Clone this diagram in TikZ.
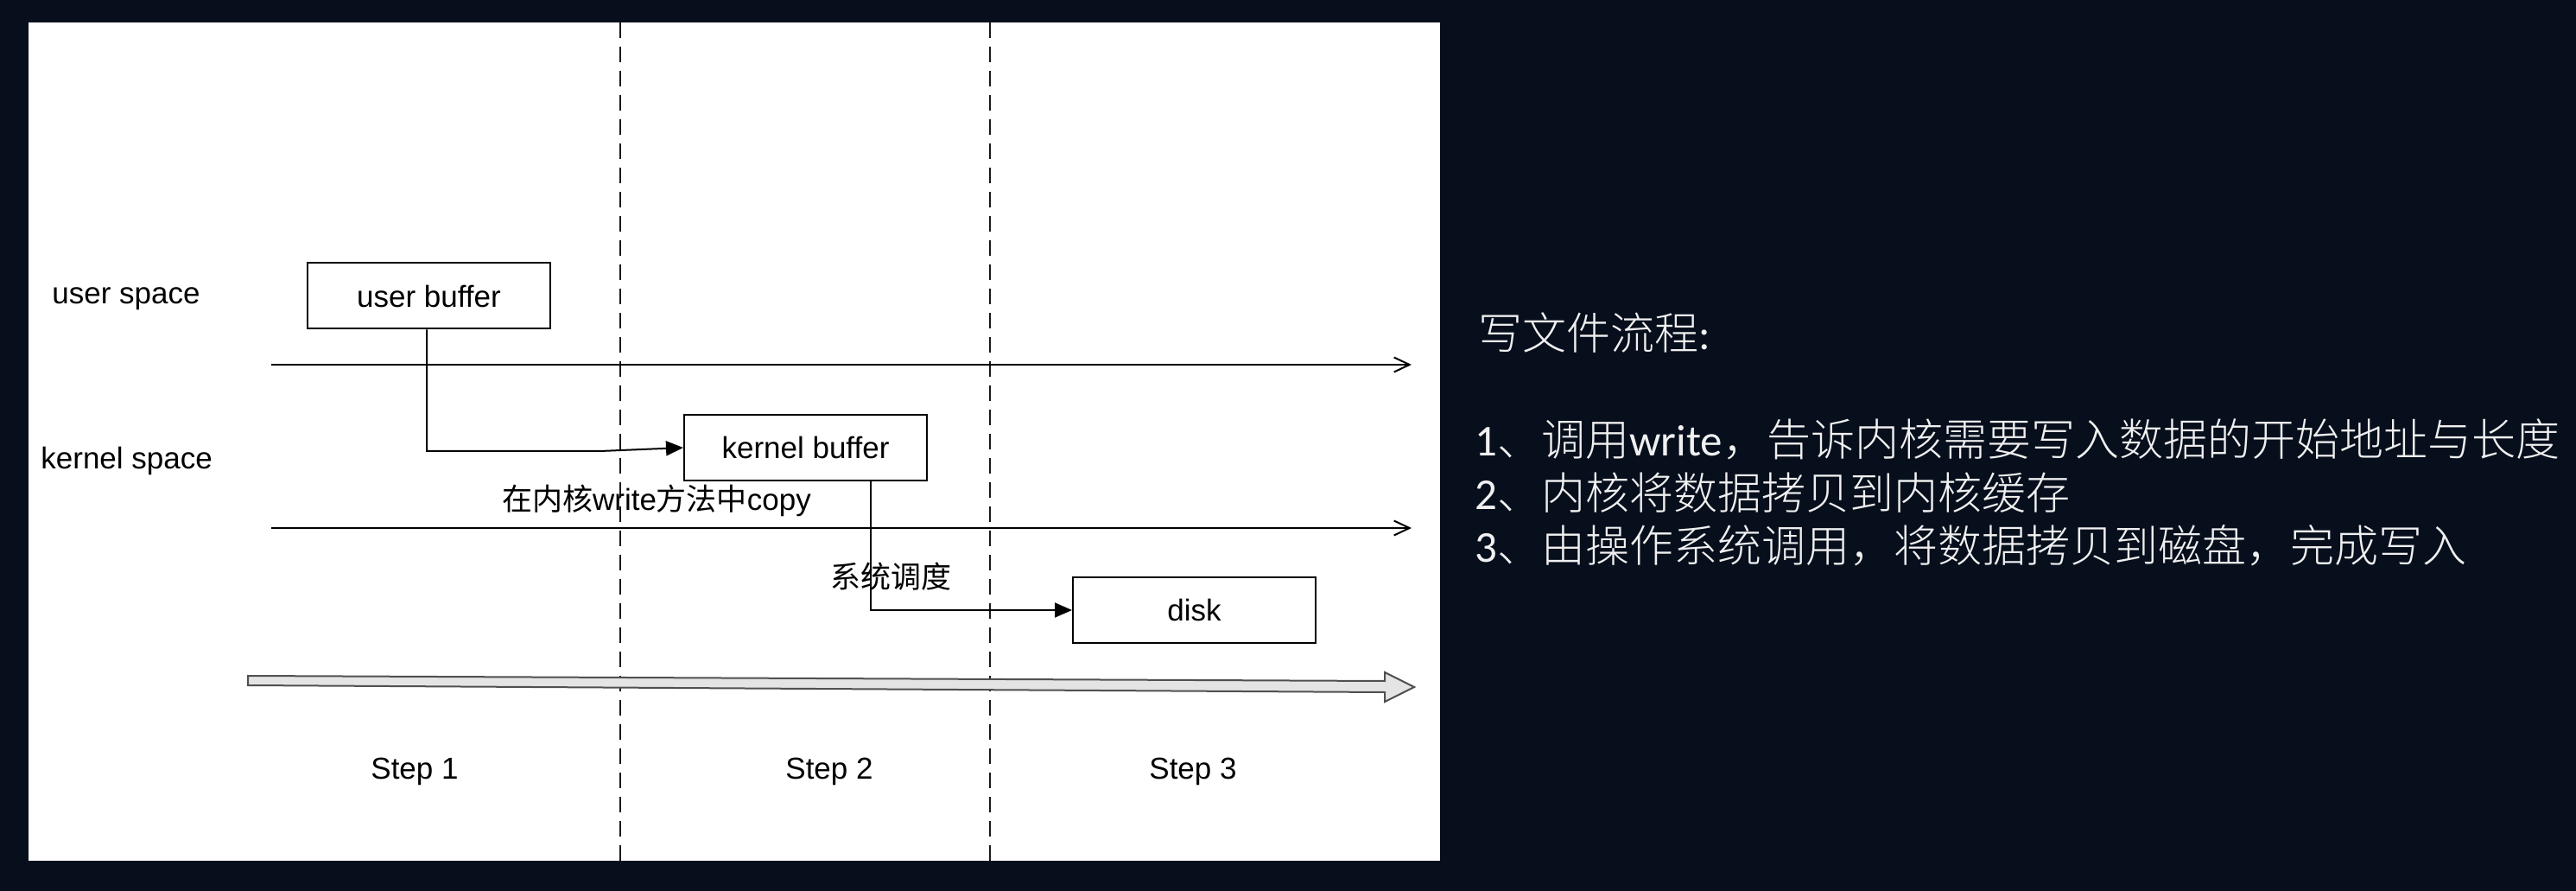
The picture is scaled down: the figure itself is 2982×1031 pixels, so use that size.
\documentclass[tikz,border=0pt]{standalone}
\usepackage{fontspec}
\setmainfont{Liberation Sans}
\newfontfamily\cjk{Noto Sans CJK SC}
\newfontfamily\cjklight{Noto Sans CJK SC Light}
\newfontfamily\carlitofont{Carlito}
\usetikzlibrary{arrows.meta,calc}
\definecolor{bgdark}{RGB}{7,15,29}
\definecolor{arrowfill}{RGB}{228,228,228}
\definecolor{arrowline}{RGB}{80,80,80}
\begin{document}
\begin{tikzpicture}[x=0.5pt,y=-0.5pt,
  box/.style={draw=black,fill=white,line width=1pt,minimum width=140.5pt,minimum height=38pt,inner sep=0pt,font=\fontsize{17.5}{20}\selectfont},
  lbl/.style={inner sep=0pt,font=\fontsize{17.5}{20}\selectfont},
  rtext/.style={anchor=base west,inner sep=0pt,text=white!94!black,font=\fontsize{25.5}{30}\selectfont},
  axis/.style={draw=black,line width=1pt,-{Straight Barb[length=9pt,width=8.5pt,line width=1pt]}},
  conn/.style={draw=black,line width=1pt,-{Triangle[length=10pt,width=8.5pt]}},
  divider/.style={draw=black!90,line width=1.3pt,dash pattern=on 9pt off 5pt}]
\useasboundingbox (0,0) rectangle (2982,1031);
\fill[bgdark] (0,0) rectangle (2982,1031);
\fill[white] (33,26) rectangle (1667,996);
% dividers
\coordinate (d1t) at (718,26); \coordinate (d1b) at (718,996);
\coordinate (d2t) at (1146,26); \coordinate (d2b) at (1146,996);
\draw[divider] (d1t) -- (d1b);
\draw[divider] (d2t) -- (d2b);
% axes
\coordinate (a1s) at (314,422); \coordinate (a1e) at (1634,422);
\coordinate (a2s) at (314,611); \coordinate (a2e) at (1634,611);
\draw[axis] (a1s) -- (a1e);
\draw[axis] (a2s) -- (a2e);
% time arrow
\draw[fill=arrowfill,draw=arrowline,line width=1pt,line join=miter]
  (287,782) -- (1603,788) -- (1603,778) -- (1637,795) -- (1603,812) -- (1603,801) -- (287,793) -- cycle;
% boxes
\node[box] (ub) at (496.5,342.5) {user buffer};
\node[box] (kb) at (932.5,518) {kernel buffer};
\node[box] (disk) at (1382.5,706) {disk};
% connectors
\coordinate (j1) at (695,522);
\draw[conn] ([xshift=-1.25pt]ub.south) |- (j1) -- (kb.west);
\draw[conn] ([xshift=37.75pt]kb.south) |- (disk.west);
% labels
\node[lbl,anchor=base west] (us) at (60,352) {user space};
\node[lbl,anchor=base west] (ks) at (47,543) {kernel space};
\node[lbl,anchor=base] (cp) at (760,590) {{\cjk 在内核}write{\cjk 方法中}copy};
\node[lbl,anchor=base] (sd) at (1031,680) {\cjk 系统调度};
\node[lbl,anchor=base] (s1) at (480,901) {Step 1};
\node[lbl,anchor=base] (s2) at (960,901) {Step 2};
\node[lbl,anchor=base] (s3) at (1381,901) {Step 3};
% right text
\node[rtext] (t0) at (1711,405) {{\cjklight 写文件流程}{\carlitofont :}};
\node[rtext] (t1) at (1707,528) {{\carlitofont 1}{\cjklight 、调用}{\carlitofont write}{\cjklight ，告诉内核需要写入数据的开始地址与长度}};
\node[rtext] (t2) at (1707,589) {{\carlitofont 2}{\cjklight 、内核将数据拷贝到内核缓存}};
\node[rtext] (t3) at (1707,651) {{\carlitofont 3}{\cjklight 、由操作系统调用，将数据拷贝到磁盘，完成写入}};
\end{tikzpicture}
\end{document}
